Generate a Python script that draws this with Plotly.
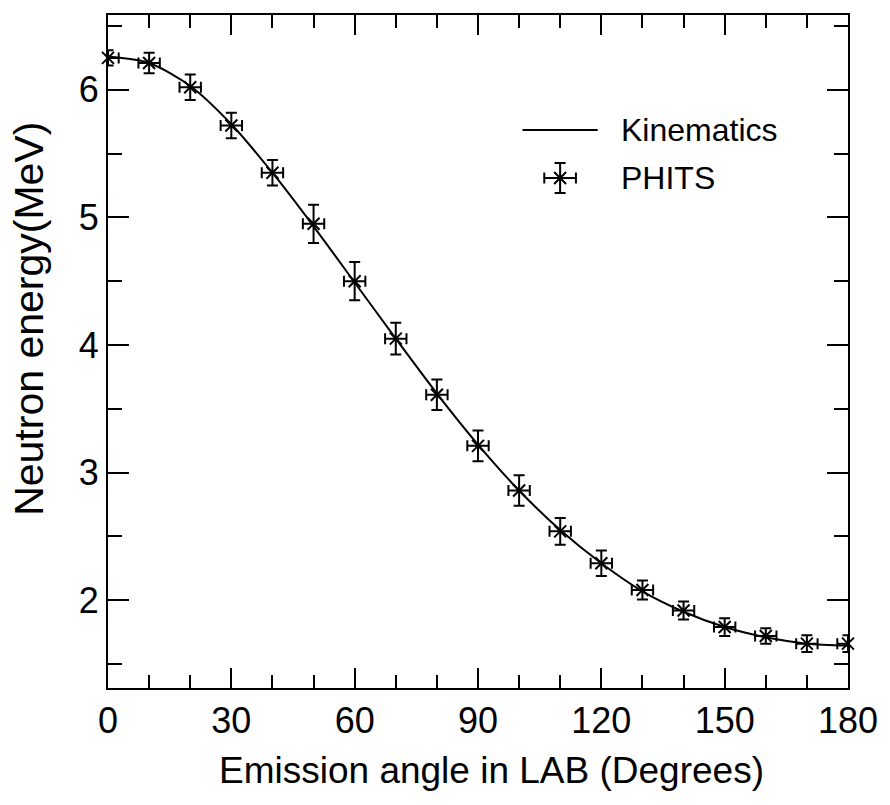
import plotly.graph_objects as go

# ---- data ----
angles = [0, 10, 20, 30, 40, 50, 60, 70, 80, 90, 100, 110, 120, 130, 140, 150, 160, 170, 180]
phits_energy = [6.25, 6.21, 6.02, 5.72, 5.35, 4.95, 4.50, 4.05, 3.61, 3.21, 2.86, 2.54, 2.29,
                2.08, 1.92, 1.79, 1.72, 1.66, 1.66]
phits_err_y = [0.06, 0.08, 0.10, 0.10, 0.10, 0.15, 0.15, 0.125, 0.12, 0.12, 0.12, 0.105, 0.10,
               0.075, 0.07, 0.07, 0.06, 0.065, 0.065]
phits_err_x = [2.6] * len(angles)
kin_energy = [6.26, 6.21, 6.03, 5.73, 5.35, 4.93, 4.49, 4.05, 3.62, 3.22, 2.86, 2.55, 2.29,
              2.07, 1.91, 1.79, 1.71, 1.66, 1.645]
x_ticks = [0, 30, 60, 90, 120, 150, 180]
y_ticks = [2, 3, 4, 5, 6]
legend_labels = ["Kinematics", "PHITS"]

FONT = "Liberation Sans, Arial, Helvetica, sans-serif"
W, H = 890, 805
L, R, T, B = 108, 856, 15, 688


def px_x(p):
    return (p - L) / (R - L)


def px_y(p):
    return (B - p) / (B - T)


fig = go.Figure()

fig.add_trace(go.Scatter(
    x=angles, y=kin_energy, mode="lines",
    line=dict(color="black", width=2, shape="spline", smoothing=0.8),
    showlegend=False, hoverinfo="skip"))

fig.add_trace(go.Scatter(
    x=angles, y=phits_energy, mode="markers",
    marker=dict(symbol="x-thin-open", size=12, color="black", line=dict(color="black", width=2)),
    error_y=dict(type="data", array=phits_err_y, color="black", thickness=2, width=5.5),
    error_x=dict(type="data", array=phits_err_x, color="black", thickness=2, width=5.5),
    cliponaxis=False, showlegend=False))

# ---- hand-made legend on a pixel-unit overlay axis ----
fig.add_trace(go.Scatter(
    x=[565], y=[178], xaxis="x2", yaxis="y2", mode="markers",
    marker=dict(symbol="x-thin-open", size=12, color="black", line=dict(color="black", width=2)),
    error_y=dict(type="constant", value=15, color="black", thickness=2, width=5.5),
    error_x=dict(type="constant", value=16, color="black", thickness=2, width=5.5),
    cliponaxis=False, showlegend=False, hoverinfo="skip"))

shapes = [dict(type="line", xref="paper", yref="paper", x0=px_x(527), x1=px_x(603),
               y0=px_y(130), y1=px_y(130), line=dict(color="black", width=2))]

annotations = [
    dict(text=legend_labels[0], xref="paper", yref="paper", x=px_x(625), y=px_y(130),
         xanchor="left", yanchor="middle", showarrow=False,
         font=dict(family=FONT, size=32, color="black")),
    dict(text=legend_labels[1], xref="paper", yref="paper", x=px_x(625), y=px_y(178),
         xanchor="left", yanchor="middle", showarrow=False,
         font=dict(family=FONT, size=32, color="black")),
    dict(text="Emission angle in LAB (Degrees)", xref="paper", yref="paper", x=px_x(496), y=px_y(770),
         xanchor="center", yanchor="middle", showarrow=False,
         font=dict(family=FONT, size=37, color="black")),
    dict(text="Neutron energy(MeV)", xref="paper", yref="paper", x=px_x(28), y=px_y(319),
         textangle=-90, xanchor="center", yanchor="middle", showarrow=False,
         font=dict(family=FONT, size=41, color="black")),
]

axis_common = dict(showgrid=False, zeroline=False, showline=True, linecolor="black", linewidth=2,
                   mirror="ticks", ticks="inside", tickcolor="black", tickwidth=2,
                   tickfont=dict(family=FONT, size=36, color="black"))

fig.update_layout(
    width=W, height=H, margin=dict(l=L, r=W - R, t=T, b=H - B),
    paper_bgcolor="white", plot_bgcolor="white", showlegend=False,
    xaxis=dict(range=[0, 180], tickvals=x_ticks, ticklen=20, ticklabelstandoff=0,
               minor=dict(ticks="inside", dtick=10, tick0=0, ticklen=13, tickcolor="black", tickwidth=2),
               **axis_common),
    yaxis=dict(range=[1.3125, 6.586], tickvals=y_ticks, ticklen=21, ticklabelstandoff=0,
               minor=dict(ticks="inside", dtick=0.5, tick0=0, ticklen=14, tickcolor="black", tickwidth=2),
               **axis_common),
    xaxis2=dict(overlaying="x", range=[L, R], domain=[0, 1], visible=False, anchor="y2"),
    yaxis2=dict(overlaying="y", range=[B, T], domain=[0, 1], visible=False, anchor="x2"),
    shapes=shapes, annotations=annotations,
)

fig.write_html("out.html")
